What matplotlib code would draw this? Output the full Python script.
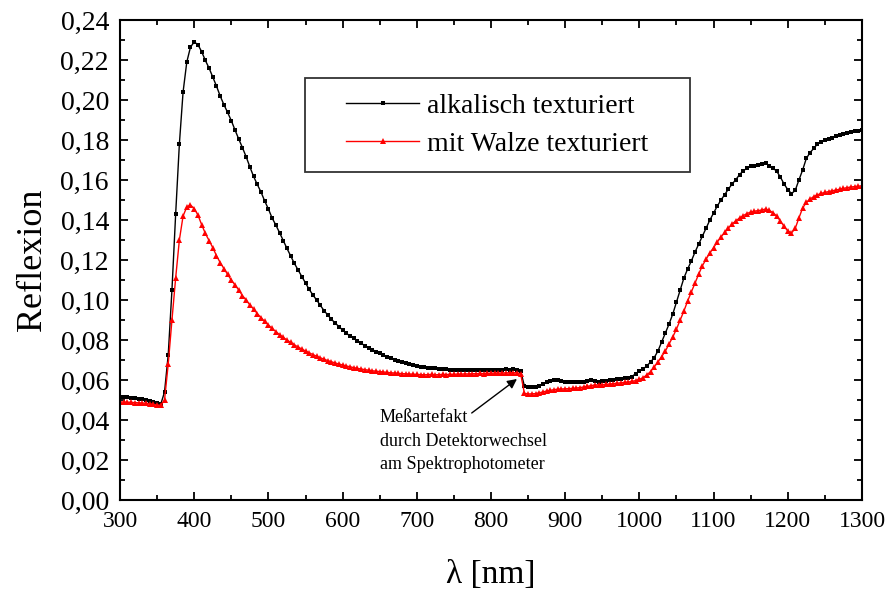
import numpy as np
import matplotlib
matplotlib.use("Agg")
from matplotlib import pyplot as plt
from matplotlib.ticker import MultipleLocator, FuncFormatter
from matplotlib.patches import Rectangle

plt.rcParams['font.family'] = ['Liberation Serif', 'DejaVu Serif']

# wavelength grid, 5 nm steps
wavelength = list(range(300, 1305, 5))

# alkalisch texturiert
reflAlkali = [
    0.0516, 0.0515, 0.0513, 0.0511, 0.0509, 0.0506, 0.0503, 0.0499, 0.0495, 0.0490,  # 300-345
    0.0485, 0.0480, 0.0540, 0.0727, 0.1050, 0.1430, 0.1780, 0.2040, 0.2190, 0.2265,  # 350-395
    0.2290, 0.2277, 0.2242, 0.2198, 0.2160, 0.2115, 0.2070, 0.2020, 0.1977, 0.1938,  # 400-445
    0.1897, 0.1850, 0.1805, 0.1762, 0.1716, 0.1666, 0.1618, 0.1578, 0.1540, 0.1495,  # 450-495
    0.1455, 0.1410, 0.1375, 0.1337, 0.1297, 0.1258, 0.1220, 0.1183, 0.1150, 0.1117,  # 500-545
    0.1085, 0.1053, 0.1025, 0.1000, 0.0973, 0.0947, 0.0925, 0.0903, 0.0885, 0.0867,  # 550-595
    0.0850, 0.0834, 0.0820, 0.0808, 0.0795, 0.0783, 0.0772, 0.0762, 0.0752, 0.0742,  # 600-645
    0.0733, 0.0725, 0.0716, 0.0708, 0.0701, 0.0695, 0.0689, 0.0683, 0.0678, 0.0673,  # 650-695
    0.0669, 0.0666, 0.0663, 0.0661, 0.0660, 0.0658, 0.0656, 0.0654, 0.0653, 0.0651,  # 700-745
    0.0650, 0.0651, 0.0650, 0.0649, 0.0652, 0.0650, 0.0651, 0.0650, 0.0652, 0.0651,  # 750-795
    0.0650, 0.0652, 0.0651, 0.0650, 0.0653, 0.0651, 0.0654, 0.0650, 0.0645, 0.0570,  # 800-845
    0.0566, 0.0567, 0.0567, 0.0572, 0.0580, 0.0590, 0.0595, 0.0600, 0.0598, 0.0593,  # 850-895
    0.0590, 0.0590, 0.0588, 0.0590, 0.0590, 0.0592, 0.0595, 0.0598, 0.0593, 0.0590,  # 900-945
    0.0594, 0.0597, 0.0598, 0.0601, 0.0604, 0.0606, 0.0608, 0.0612, 0.0617, 0.0632,  # 950-995
    0.0645, 0.0655, 0.0670, 0.0690, 0.0712, 0.0745, 0.0790, 0.0835, 0.0880, 0.0930,  # 1000-1045
    0.0990, 0.1050, 0.1110, 0.1155, 0.1195, 0.1240, 0.1280, 0.1320, 0.1360, 0.1400,  # 1050-1095
    0.1435, 0.1470, 0.1500, 0.1527, 0.1555, 0.1580, 0.1602, 0.1627, 0.1646, 0.1659,  # 1100-1145
    0.1668, 0.1671, 0.1676, 0.1680, 0.1684, 0.1672, 0.1660, 0.1644, 0.1615, 0.1580,  # 1150-1195
    0.1552, 0.1532, 0.1548, 0.1600, 0.1650, 0.1708, 0.1737, 0.1758, 0.1780, 0.1790,  # 1200-1245
    0.1798, 0.1806, 0.1812, 0.1818, 0.1825, 0.1830, 0.1836, 0.1840, 0.1843, 0.1847,  # 1250-1295
    0.1850,                                                                          # 1300
]

# mit Walze texturiert
reflWalze = [
    0.0490, 0.0490, 0.0489, 0.0488, 0.0487, 0.0486, 0.0485, 0.0484, 0.0481, 0.0478,  # 300-345
    0.0475, 0.0473, 0.0500, 0.0680, 0.0900, 0.1110, 0.1300, 0.1420, 0.1465, 0.1475,  # 350-395
    0.1457, 0.1425, 0.1377, 0.1333, 0.1297, 0.1262, 0.1222, 0.1187, 0.1157, 0.1128,  # 400-445
    0.1100, 0.1075, 0.1050, 0.1022, 0.1000, 0.0975, 0.0955, 0.0932, 0.0912, 0.0893,  # 450-495
    0.0875, 0.0858, 0.0842, 0.0827, 0.0813, 0.0800, 0.0788, 0.0776, 0.0765, 0.0755,  # 500-545
    0.0745, 0.0736, 0.0727, 0.0719, 0.0711, 0.0704, 0.0697, 0.0691, 0.0685, 0.0680,  # 550-595
    0.0675, 0.0670, 0.0666, 0.0662, 0.0658, 0.0655, 0.0652, 0.0649, 0.0646, 0.0644,  # 600-645
    0.0642, 0.0640, 0.0638, 0.0636, 0.0635, 0.0633, 0.0632, 0.0631, 0.0630, 0.0629,  # 650-695
    0.0628, 0.0627, 0.0626, 0.0627, 0.0628, 0.0626, 0.0627, 0.0628, 0.0627, 0.0629,  # 700-745
    0.0628, 0.0630, 0.0629, 0.0631, 0.0630, 0.0632, 0.0631, 0.0633, 0.0632, 0.0634,  # 750-795
    0.0633, 0.0635, 0.0634, 0.0636, 0.0635, 0.0637, 0.0636, 0.0637, 0.0630, 0.0534,  # 800-845
    0.0530, 0.0531, 0.0532, 0.0536, 0.0540, 0.0545, 0.0548, 0.0552, 0.0554, 0.0555,  # 850-895
    0.0556, 0.0557, 0.0558, 0.0560, 0.0562, 0.0565, 0.0568, 0.0572, 0.0575, 0.0576,  # 900-945
    0.0577, 0.0578, 0.0580, 0.0582, 0.0584, 0.0586, 0.0588, 0.0590, 0.0593, 0.0597,  # 950-995
    0.0603, 0.0612, 0.0625, 0.0642, 0.0665, 0.0690, 0.0717, 0.0745, 0.0780, 0.0815,  # 1000-1045
    0.0855, 0.0900, 0.0945, 0.0995, 0.1040, 0.1085, 0.1130, 0.1172, 0.1205, 0.1235,  # 1050-1095
    0.1262, 0.1290, 0.1315, 0.1338, 0.1360, 0.1380, 0.1396, 0.1410, 0.1422, 0.1432,  # 1100-1145
    0.1440, 0.1444, 0.1447, 0.1450, 0.1455, 0.1448, 0.1437, 0.1420, 0.1395, 0.1368,  # 1150-1195
    0.1345, 0.1335, 0.1358, 0.1410, 0.1460, 0.1488, 0.1505, 0.1517, 0.1526, 0.1533,  # 1200-1245
    0.1538, 0.1542, 0.1546, 0.1550, 0.1554, 0.1558, 0.1562, 0.1565, 0.1567, 0.1569,  # 1250-1295
    0.1571,                                                                          # 1300
]

labels = ["alkalisch texturiert", "mit Walze texturiert"]
noteText = "Meßartefakt\ndurch Detektorwechsel\nam Spektrophotometer"


def commaFormat(v, pos):
    return ("%.2f" % v).replace(".", ",")


fig = plt.figure(figsize=(8.87, 5.92), dpi=100)
ax = fig.add_axes([0.1353, 0.1554, 0.8365, 0.8108])

l1, = ax.plot(wavelength, reflAlkali, color="black", lw=1.0, marker="s",
              markersize=3.2, markeredgewidth=0)
l2, = ax.plot(wavelength, reflWalze, color="red", lw=1.0, marker="^",
              markersize=4.8, markeredgewidth=0)

ax.set_xlim(300, 1300)
ax.set_ylim(0, 0.24)
ax.xaxis.set_major_locator(MultipleLocator(100))
ax.xaxis.set_minor_locator(MultipleLocator(50))
ax.yaxis.set_major_locator(MultipleLocator(0.02))
ax.yaxis.set_minor_locator(MultipleLocator(0.01))
ax.yaxis.set_major_formatter(FuncFormatter(commaFormat))

ax.tick_params(which="both", direction="in", top=True, right=True, width=1.3)
ax.tick_params(which="major", length=6)
ax.tick_params(which="minor", length=3.5)
ax.tick_params(axis="x", which="major", labelsize=17, pad=8)
ax.tick_params(axis="y", which="major", labelsize=20, pad=8)
for s in ax.spines.values():
    s.set_linewidth(1.5)

ax.set_xlabel("λ [nm]", fontsize=24, labelpad=20)
ax.set_ylabel("Reflexion", fontsize=26, labelpad=8)

# legend with a separate square frame
ax.add_patch(Rectangle((0.249, 0.683), 0.519, 0.196, transform=ax.transAxes,
                       fill=False, edgecolor="#333333", lw=1.3, zorder=5))
ax.legend([l1, l2], labels, loc="center", bbox_to_anchor=(0.5085, 0.781),
          frameon=False, fontsize=20, numpoints=1, handlelength=2.6,
          handletextpad=0.3, labelspacing=0.45, markerscale=0.8)

# measuring artefact at the detector change
ax.text(650, 0.0455, noteText, fontsize=13, ha="left", va="top", linespacing=1.5)
ax.annotate("", xy=(835, 0.0605), xytext=(774, 0.0435),
            arrowprops=dict(arrowstyle="-|>", color="black", lw=1.0,
                            mutation_scale=14, shrinkA=0, shrinkB=0))

fig.savefig("out.png", dpi=100)
